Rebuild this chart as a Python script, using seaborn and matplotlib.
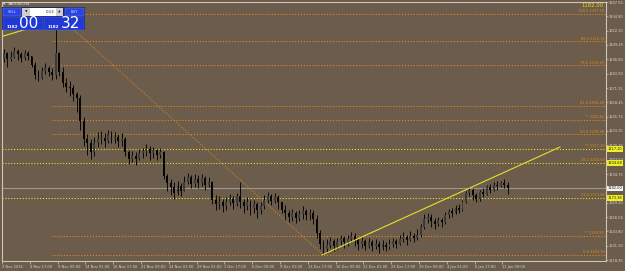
import numpy as np
import pandas as pd
import matplotlib
matplotlib.use("Agg")
import matplotlib.pyplot as plt
import seaborn as sns
from matplotlib.patches import Rectangle

# ---------------- data (XAUUSD, one entry per 8 hours) -------------
first_open = 1297
closes = [1302, 1297, 1299, 1304, 1301, 1298, 1302, 1300,
          1292, 1283, 1280, 1286, 1289, 1285, 1283, 1302,
          1285, 1276, 1272, 1271, 1266, 1262, 1242, 1226,
          1222, 1214, 1222, 1226, 1227, 1224, 1230, 1227,
          1228, 1224, 1226, 1214, 1208, 1211, 1208, 1213,
          1215, 1217, 1213, 1216, 1212, 1214, 1193, 1187,
          1183, 1178, 1184, 1180, 1188, 1192, 1186, 1190,
          1187, 1191, 1185, 1188, 1172, 1168, 1170, 1166,
          1170, 1173, 1169, 1175, 1170, 1166, 1170, 1165,
          1168, 1163, 1166, 1172, 1175, 1171, 1174, 1170,
          1163, 1160, 1157, 1160, 1156, 1159, 1162, 1158,
          1160, 1155, 1142, 1133, 1128, 1132, 1135, 1131,
          1135, 1138, 1134, 1137, 1140, 1136, 1133, 1135,
          1131, 1134, 1131, 1133, 1130, 1132, 1130, 1133,
          1135, 1133, 1137, 1139, 1136, 1140, 1138, 1141,
          1148, 1155, 1157, 1153, 1150, 1154, 1152, 1158,
          1162, 1160, 1165, 1163, 1170, 1178, 1181, 1176,
          1173, 1179, 1177, 1183, 1181, 1185, 1184, 1187,
          1185, 1182]
highs = [1306, 1303, 1304, 1308, 1306, 1303, 1305, 1304,
         1300, 1294, 1287, 1290, 1293, 1291, 1289, 1337,
         1303, 1290, 1280, 1277, 1274, 1268, 1265, 1245,
         1230, 1226, 1228, 1232, 1233, 1231, 1234, 1233,
         1232, 1230, 1231, 1228, 1216, 1215, 1214, 1217,
         1218, 1221, 1220, 1219, 1217, 1218, 1215, 1195,
         1190, 1188, 1189, 1187, 1193, 1196, 1194, 1195,
         1194, 1195, 1193, 1192, 1189, 1176, 1175, 1173,
         1174, 1177, 1175, 1178, 1188, 1173, 1174, 1172,
         1172, 1170, 1170, 1176, 1179, 1177, 1178, 1176,
         1170, 1167, 1163, 1164, 1162, 1163, 1166, 1164,
         1164, 1163, 1158, 1145, 1136, 1137, 1139, 1137,
         1138, 1141, 1140, 1141, 1143, 1142, 1138, 1139,
         1137, 1138, 1136, 1137, 1135, 1136, 1134, 1137,
         1138, 1137, 1141, 1143, 1141, 1144, 1142, 1146,
         1150, 1159, 1160, 1159, 1156, 1157, 1156, 1161,
         1164, 1165, 1167, 1168, 1172, 1180, 1183, 1182,
         1178, 1181, 1182, 1185, 1186, 1188, 1189, 1189,
         1190, 1188]
lows = [1294, 1290, 1295, 1298, 1296, 1294, 1296, 1296,
        1290, 1279, 1277, 1279, 1284, 1282, 1278, 1279,
        1282, 1272, 1268, 1264, 1260, 1250, 1234, 1220,
        1212, 1208, 1211, 1219, 1221, 1219, 1222, 1222,
        1222, 1219, 1220, 1211, 1204, 1205, 1203, 1207,
        1209, 1211, 1207, 1209, 1207, 1209, 1190, 1180,
        1176, 1173, 1176, 1175, 1180, 1186, 1182, 1183,
        1182, 1184, 1181, 1183, 1168, 1163, 1164, 1161,
        1163, 1167, 1164, 1166, 1165, 1160, 1163, 1158,
        1160, 1156, 1159, 1164, 1169, 1167, 1169, 1164,
        1160, 1154, 1152, 1153, 1151, 1153, 1155, 1154,
        1154, 1150, 1138, 1128, 1123, 1125, 1129, 1126,
        1128, 1132, 1129, 1131, 1134, 1131, 1127, 1129,
        1127, 1129, 1126, 1128, 1125, 1127, 1126, 1128,
        1130, 1129, 1132, 1134, 1132, 1135, 1134, 1136,
        1139, 1146, 1151, 1148, 1146, 1149, 1148, 1150,
        1156, 1157, 1159, 1160, 1162, 1169, 1175, 1172,
        1170, 1171, 1174, 1176, 1178, 1180, 1181, 1183,
        1182, 1177]

date_labels = ["2 Nov 2016", "4 Nov 17:00", "9 Nov 09:00", "14 Nov 01:00", "16 Nov 17:00",
               "21 Nov 09:00", "24 Nov 01:00", "29 Nov 01:00", "1 Dec 17:00", "6 Dec 09:00",
               "9 Dec 01:00", "13 Dec 17:00", "16 Dec 09:00", "21 Dec 01:00", "23 Dec 17:00",
               "29 Dec 09:00", "4 Jan 01:00", "6 Jan 17:00", "11 Jan 09:00"]
bars_per_label = 8

ytick_values = [1347.55, 1334.80, 1322.10, 1309.45, 1296.80, 1283.90, 1271.15, 1258.45,
                1245.75, 1233.15, 1220.25, 1207.50, 1194.75, 1169.30, 1156.55, 1143.80,
                1131.10, 1118.35]

fib_names = ["100.0", "88.6", "78.6", "61.8", "**", "50.0", "**", "38.2", "23.6", "**", "0.0"]
fib_levels = [1337.18, 1312.74, 1291.30, 1255.28, 1242.60, 1229.98, 1217.10, 1204.68,
              1173.38, 1139.90, 1122.78]
yellow_levels = [1217.10, 1204.68, 1173.38]
current_price = 1182.00

fib_start_bar = 14
trend_x = [91.6, 160.1]
trend_y = [1122.8, 1218.8]
diag_x = [15, 92]
diag_y = [1337.18, 1122.78]
top_trend_x = [-1.0, 6.7]
top_trend_y = [1316.5, 1323.6]

# ---------------- style ----------------
BG = "#6b5c4c"
LIGHT = "#ddd5c8"
ORANGE = "#e08a1c"
YELLOW = "#e8e02a"

sns.set_theme(style="dark", rc={"axes.facecolor": BG, "figure.facecolor": BG})
plt.rcParams["font.family"] = ["DejaVu Sans"]

fig = plt.figure(figsize=(6.25, 2.71), dpi=100, facecolor=BG)
ax = fig.add_axes([2 / 625, 10 / 271, 604 / 625, 259 / 271])
ax.set_facecolor(BG)
ax.grid(False)

n = len(closes)
idx = np.arange(n)
opens = np.array([first_open] + closes[:-1], dtype=float)
c = np.array(closes, dtype=float)
df = pd.DataFrame({"bar": idx, "open": opens, "close": c, "high": highs, "low": lows})

# horizontal lines
dot = (0, (1.0, 1.6))
for name, lev in zip(fib_names, fib_levels):
    if lev in yellow_levels:
        continue
    ax.hlines(lev, fib_start_bar, 173.3, colors=ORANGE, linestyles=[dot], lw=0.8, zorder=1)
for lev in yellow_levels:
    ax.hlines(lev, -0.5, 173.3, colors=YELLOW, linestyles=[dot], lw=0.8, zorder=1)
ax.axhline(current_price, color="#9c9890", lw=0.8, zorder=1)

# diagonal fib anchor and trend lines
sns.lineplot(x=diag_x, y=diag_y, ax=ax, color=ORANGE, lw=0.7, linestyle=(0, (1.0, 1.6)), zorder=2)
sns.lineplot(x=trend_x, y=trend_y, ax=ax, color=YELLOW, lw=0.8, zorder=4)
sns.lineplot(x=top_trend_x, y=top_trend_y, ax=ax, color=YELLOW, lw=0.8, zorder=4)

# candles
ax.vlines(df["bar"], df["low"], df["high"], color="#0a0a0a", lw=0.7, zorder=3)
body_bottom = np.minimum(df["open"], df["close"])
body_h = np.maximum(np.abs(df["close"] - df["open"]), 0.5)
body_col = ["#3c3c3c" if cl >= op else "#050505" for op, cl in zip(df["open"], df["close"])]
ax.bar(df["bar"], body_h, bottom=body_bottom, width=0.55, color=body_col, linewidth=0, zorder=3)

# fib labels
for name, lev in zip(fib_names, fib_levels):
    ax.text(172.8, lev + 0.6, f"{name} {lev:.2f}", ha="right", va="bottom",
            fontsize=2.6, color=ORANGE, zorder=5)

ax.set_xlim(-0.5, 173.3)
ax.set_ylim(1117.5, 1347.55)

# axes / ticks
for sp in ax.spines.values():
    sp.set_color("#cfc6b8")
    sp.set_linewidth(0.8)
ax.yaxis.tick_right()
ax.set_yticks(ytick_values)
ax.set_yticklabels([f"{v:.2f}" for v in ytick_values])
ax.tick_params(axis="y", colors="#cfc6b8", labelcolor=LIGHT, labelsize=2.6,
               length=1.5, width=0.5, pad=0.6, right=True, left=False)
xt = [k * bars_per_label - 0.5 for k in range(len(date_labels))]
ax.set_xticks(xt)
ax.set_xticklabels(date_labels)
ax.tick_params(axis="x", colors="#cfc6b8", labelcolor=LIGHT, labelsize=2.6,
               length=2, width=0.5, pad=1.0, bottom=True)
for lbl in ax.get_xticklabels():
    lbl.set_ha("left")
ax.set_xlabel("")
ax.set_ylabel("")

# price boxes on right axis
for lev in yellow_levels:
    ax.annotate(f"{lev:.2f}", xy=(1.0, lev), xycoords=("axes fraction", "data"),
                xytext=(1.0, 0), textcoords="offset points", ha="left", va="center",
                fontsize=2.6, color="#202020", annotation_clip=False,
                bbox=dict(boxstyle="square,pad=0.2", fc="#f0f020", ec="none"), zorder=6)
ax.annotate(f"{current_price:.2f}", xy=(1.0, current_price), xycoords=("axes fraction", "data"),
            xytext=(1.0, 0), textcoords="offset points", ha="left", va="center",
            fontsize=2.6, color="#202020", annotation_clip=False,
            bbox=dict(boxstyle="square,pad=0.2", fc="#f4f4f4", ec="none"), zorder=6)

# ---------------- overlay: title and trading panel (pixel coordinates) ----------------
ov = fig.add_axes([0, 0, 1, 1], zorder=10)
ov.set_xlim(0, 625)
ov.set_ylim(271, 0)
ov.axis("off")
ov.patch.set_alpha(0)

ov.text(604, 5.5, f"{current_price:.2f}", ha="right", va="center", fontsize=3.9, color="#ecd81c")
ov.text(3, 3.6, "\u25b2", ha="left", va="center", fontsize=2.2, color="#e8e0d0")
ov.text(8, 3.6, "XAUUSD,H4", ha="left", va="center", fontsize=2.7, color="#f0f0f0")

ov.add_patch(Rectangle((2, 7), 83, 23, fc="#1c2470", ec="none"))
ov.add_patch(Rectangle((3, 8), 18, 8, fc="#2a44e0", ec="#8090f0", lw=0.3))
ov.text(12, 12, "SELL", ha="center", va="center", fontsize=2.6, color="#d8e0ff")
ov.add_patch(Rectangle((22, 8), 8, 8, fc="#cfcfcf", ec="none"))
ov.text(26, 12, "\u25bc", ha="center", va="center", fontsize=2.4, color="#202020")
ov.add_patch(Rectangle((30, 8), 26, 8, fc="#ffffff", ec="none"))
ov.text(54, 12, "0.13", ha="right", va="center", fontsize=2.8, color="#202020")
ov.add_patch(Rectangle((56, 8), 7, 8, fc="#cfcfcf", ec="none"))
ov.text(59.5, 12, "\u25b2", ha="center", va="center", fontsize=2.4, color="#202020")
ov.add_patch(Rectangle((65, 8), 19, 8, fc="#2a44e0", ec="#8090f0", lw=0.3))
ov.text(74.5, 12, "BUY", ha="center", va="center", fontsize=2.6, color="#d8e0ff")

ov.add_patch(Rectangle((3, 17), 40, 12.5, fc="#1f38d6", ec="#6070e0", lw=0.3))
ov.add_patch(Rectangle((44, 17), 40, 12.5, fc="#1f38d6", ec="#6070e0", lw=0.3))
ov.text(6.5, 26.5, "1182", ha="left", va="center", fontsize=3.0, color="white", weight="bold")
ov.text(19.5, 23.5, "00", ha="left", va="center", fontsize=11, color="white")
ov.text(47.5, 26.5, "1182", ha="left", va="center", fontsize=3.0, color="white", weight="bold")
ov.text(60.5, 23.5, "32", ha="left", va="center", fontsize=11, color="white")

fig.savefig("out.png", dpi=100, facecolor=BG)
